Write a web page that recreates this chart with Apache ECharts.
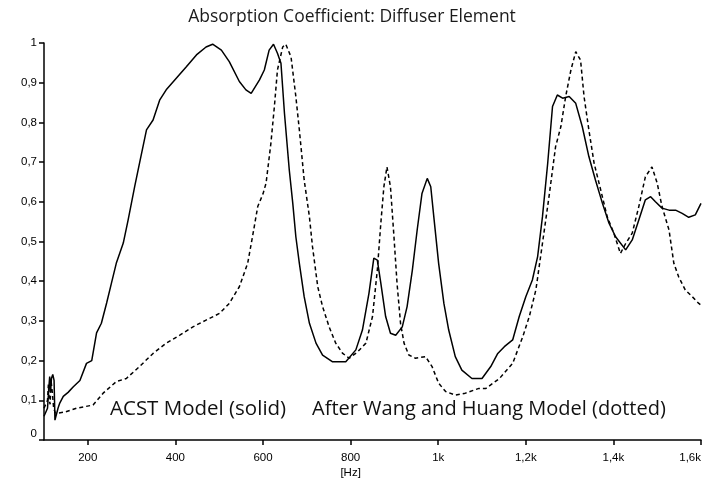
<!DOCTYPE html>
<html>
<head>
<meta charset="utf-8">
<script src="https://cdn.jsdelivr.net/npm/echarts@6/dist/echarts.min.js"></script>
<style>
html,body{margin:0;padding:0;background:#fff;}
#chart{width:704px;height:482px;}
</style>
</head>
<body>
<div id="chart"></div>
<script>
const chartTitle = 'Absorption Coefficient: Diffuser Element';
const solidLabel = 'ACST Model (solid)';
const dottedLabel = 'After Wang and Huang Model (dotted)';
const axisUnit = '[Hz]';

const xTicks = [200, 400, 600, 800, 1000, 1200, 1400, 1600];
const xTickLabels = ['200', '400', '600', '800', '1k', '1,2k', '1,4k', '1,6k'];

const solidHz = [100,104,108,111,113,115,117,120,123,125,128,132,136,144,155,167,182,197,209,220,231,243,254,265,281,292,307,318,334,349,364,379,402,425,448,470,485,505,523,546,561,573,592,603,614,624,633,641,649,660,668,675,683,694,706,721,736,759,789,812,827,842,853,861,869,880,891,903,918,929,941,952,963,975,983,990,1001,1013,1024,1039,1054,1077,1100,1120,1136,1151,1170,1185,1200,1215,1227,1238,1250,1261,1272,1284,1299,1314,1329,1344,1359,1375,1390,1405,1428,1443,1458,1473,1485,1496,1511,1527,1542,1557,1572,1587,1600];
const solidAbs = [0.06,0.065,0.08,0.13,0.16,0.12,0.155,0.165,0.15,0.05,0.045,0.08,0.093,0.11,0.12,0.134,0.15,0.193,0.2,0.27,0.294,0.345,0.395,0.445,0.496,0.554,0.638,0.697,0.781,0.806,0.856,0.882,0.911,0.94,0.97,0.99,0.997,0.982,0.953,0.903,0.882,0.873,0.907,0.932,0.982,0.997,0.974,0.949,0.823,0.68,0.596,0.512,0.445,0.361,0.294,0.244,0.214,0.197,0.197,0.227,0.277,0.37,0.458,0.453,0.395,0.311,0.269,0.264,0.285,0.336,0.428,0.529,0.621,0.659,0.638,0.562,0.445,0.344,0.277,0.21,0.176,0.155,0.155,0.185,0.218,0.235,0.252,0.311,0.361,0.403,0.462,0.562,0.697,0.84,0.869,0.861,0.865,0.848,0.789,0.714,0.655,0.596,0.546,0.512,0.479,0.504,0.554,0.605,0.613,0.6,0.584,0.579,0.579,0.571,0.561,0.567,0.596];

const dottedHz = [100,104,108,110,112,114,116,119,122,126,133,150,174,212,235,265,288,318,349,379,410,440,470,501,523,546,565,576,588,600,607,618,626,633,645,652,664,675,683,694,706,713,725,736,751,766,782,797,816,835,850,861,869,876,883,891,899,906,914,922,933,948,971,986,1001,1017,1039,1062,1093,1109,1140,1170,1193,1208,1223,1238,1253,1268,1280,1291,1303,1314,1325,1333,1344,1356,1371,1386,1401,1416,1428,1443,1458,1473,1488,1500,1511,1527,1538,1549,1564,1580,1595,1600];
const dottedAbs = [0.08,0.085,0.1,0.14,0.1,0.09,0.15,0.12,0.08,0.068,0.068,0.071,0.08,0.088,0.118,0.147,0.155,0.185,0.218,0.244,0.264,0.285,0.302,0.319,0.344,0.386,0.445,0.512,0.588,0.62,0.647,0.747,0.84,0.932,0.99,0.997,0.965,0.865,0.781,0.655,0.562,0.487,0.386,0.336,0.285,0.244,0.218,0.206,0.222,0.244,0.311,0.428,0.546,0.638,0.688,0.638,0.512,0.395,0.294,0.244,0.214,0.206,0.21,0.185,0.143,0.122,0.113,0.118,0.13,0.13,0.155,0.193,0.26,0.311,0.378,0.495,0.613,0.739,0.789,0.865,0.932,0.978,0.957,0.865,0.781,0.697,0.63,0.562,0.521,0.47,0.495,0.521,0.588,0.663,0.688,0.647,0.588,0.529,0.445,0.411,0.378,0.361,0.344,0.34];

const zip = (a, b) => a.map((v, i) => [v, b[i]]);

const chart = echarts.init(document.getElementById('chart'));
chart.setOption({
  animation: false,
  backgroundColor: '#fff',
  title: {
    text: chartTitle,
    left: 'center',
    top: 3,
    textStyle: {fontFamily: 'Open Sans', fontSize: 17.5, fontWeight: 'normal', color: '#1a1a1a'}
  },
  grid: {left: 44, right: 1, top: 43, bottom: 42, containLabel: false},
  xAxis: {
    type: 'value',
    min: 100, max: 1600,
    axisLine: {show: true, onZero: false, lineStyle: {color: '#000', width: 1.5}},
    axisTick: {show: true, inside: false, length: 5, customValues: xTicks, lineStyle: {color: '#000', width: 1.5}},
    splitLine: {show: false},
    axisLabel: {
      customValues: xTicks,
      fontFamily: 'Liberation Sans', fontSize: 11.5, color: '#000', margin: 12,
      alignMaxLabel: 'right',
      formatter: function (v) {
        const i = xTicks.indexOf(v);
        const t = i >= 0 ? xTickLabels[i] : '';
        return v === 800 ? t + '\n{u|' + axisUnit + '}' : t;
      },
      rich: {u: {fontFamily: 'Liberation Sans', fontSize: 11.5, color: '#000', lineHeight: 17}}
    }
  },
  yAxis: {
    type: 'value',
    min: 0, max: 1, interval: 0.1,
    axisLine: {show: true, onZero: false, lineStyle: {color: '#000', width: 1.5}},
    axisTick: {show: true, inside: false, length: 5, lineStyle: {color: '#000', width: 1.5}},
    splitLine: {show: false},
    axisLabel: {
      fontFamily: 'Liberation Sans', fontSize: 11.5, color: '#000', margin: 7,
      formatter: function (v) {
        if (v === 0) return '{z|0}';
        if (Math.abs(v - 1) < 1e-9) return '1';
        return v.toFixed(1).replace('.', ',');
      },
      rich: {z: {fontFamily: 'Liberation Sans', fontSize: 11.5, color: '#000', padding: [0, 0, 12, 0]}}
    }
  },
  graphic: [
    {type: 'text', left: 110, top: 399, style: {text: solidLabel, fontFamily: 'Open Sans', fontSize: 20.5, fill: '#111'}},
    {type: 'text', left: 312, top: 399, style: {text: dottedLabel, fontFamily: 'Open Sans', fontSize: 20, fill: '#111'}}
  ],
  series: [
    {
      name: solidLabel, type: 'line', data: zip(solidHz, solidAbs),
      showSymbol: false, smooth: false,
      lineStyle: {color: '#000', width: 1.5, type: 'solid'}
    },
    {
      name: dottedLabel, type: 'line', data: zip(dottedHz, dottedAbs),
      showSymbol: false, smooth: false,
      lineStyle: {color: '#000', width: 1.5, type: [4, 3]}
    }
  ]
});
</script>
</body>
</html>
